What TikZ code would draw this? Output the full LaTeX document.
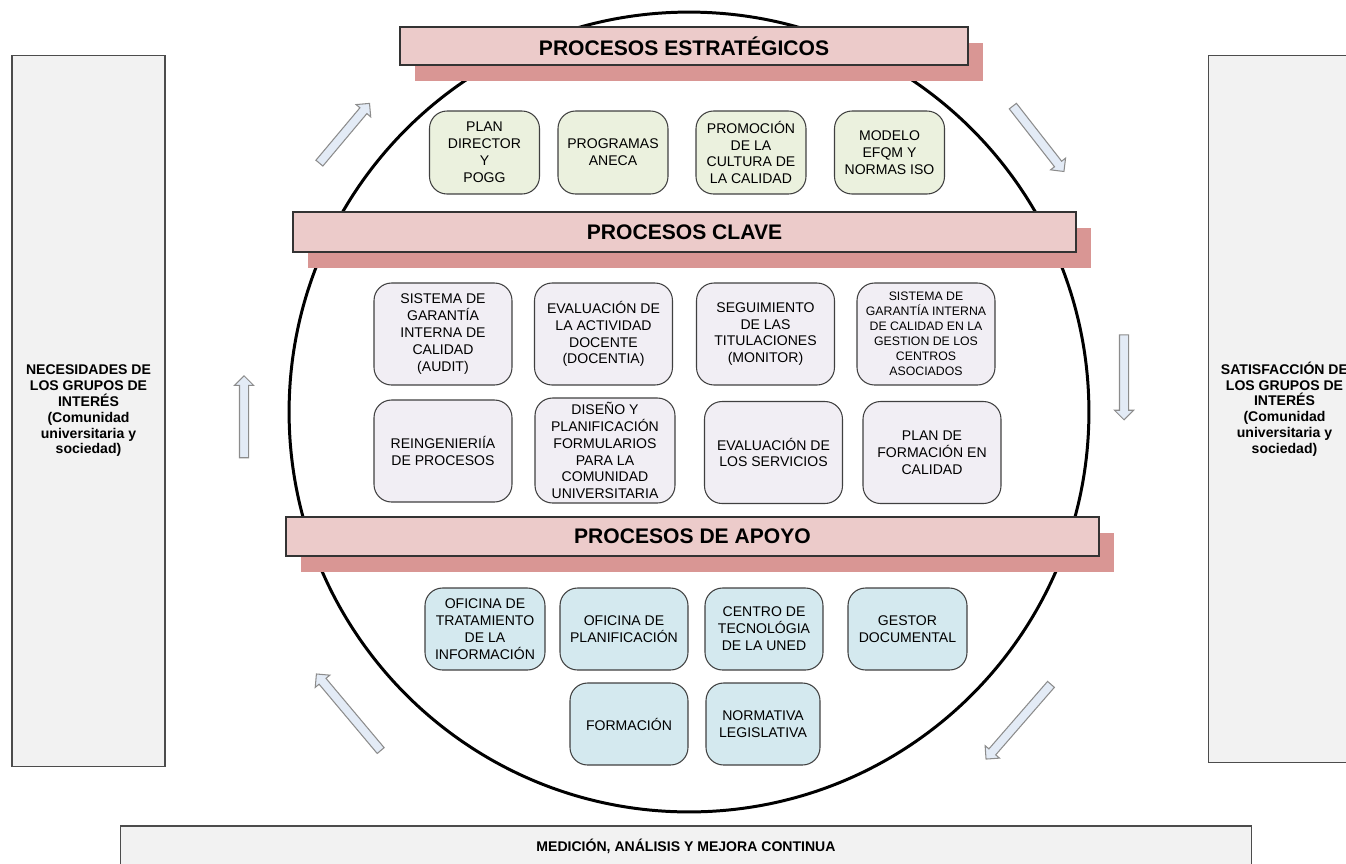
\documentclass[tikz,border=0pt]{standalone}
\usepackage{fontspec}
\setmainfont{Liberation Sans}
\usepackage{xcolor}
\usepackage{tikz}
\usetikzlibrary{shapes,arrows,positioning,calc,shadows}

\definecolor{bannerpink}{HTML}{ECCBCA}
\definecolor{bannershadow}{HTML}{D99694}
\definecolor{stratgreen}{HTML}{EBF1DE}
\definecolor{clavelilac}{HTML}{F1EEF4}
\definecolor{apoyoblue}{HTML}{D4E9EF}
\definecolor{panelgray}{HTML}{F2F2F2}
\definecolor{arrowblue}{HTML}{E3EBF6}

\begin{document}
\begin{tikzpicture}[x=0.02cm, y=-0.02cm,
    banner/.style={draw=black!80, fill=bannerpink, line width=0.8pt, inner sep=0pt,
        drop shadow={shadow xshift=0.3cm, shadow yshift=-0.32cm, fill=bannershadow, opacity=1},
        font=\bfseries\fontsize{12}{14}\selectfont},
    procbox/.style={draw=black!75, line width=0.6pt, rounded corners=0.35cm, align=center,
        inner sep=0pt, font=\fontsize{8}{9.6}\selectfont},
    strat/.style={procbox, fill=stratgreen, minimum width=2.2cm, minimum height=1.66cm},
    clave/.style={procbox, fill=clavelilac, minimum width=2.76cm, minimum height=2.04cm},
    apoyo/.style={procbox, fill=apoyoblue, minimum height=1.64cm},
    panel/.style={draw=black!70, fill=panelgray, line width=0.6pt, align=center, inner sep=0pt,
        font=\bfseries\fontsize{8}{9}\selectfont},
    flecha/.style={single arrow, draw=black!45, fill=arrowblue, line width=0.6pt,
        inner sep=0.08cm, minimum width=0pt, single arrow head extend=0.1cm}
]
    \useasboundingbox (0,0) rectangle (1346,863);
    \clip (0,0) rectangle (1346,863);

    % Grupos de interes
    \node[panel, minimum width=3.06cm, minimum height=14.24cm] (necesidades) at (88.5,411)
        {NECESIDADES DE\\LOS GRUPOS DE\\INTERÉS\\(Comunidad\\universitaria y\\sociedad)};
    \node[panel, minimum width=3.06cm, minimum height=14.16cm] (satisfaccion) at (1284.5,409)
        {SATISFACCIÓN DE\\LOS GRUPOS DE\\INTERÉS\\(Comunidad\\universitaria y\\sociedad)};
    \node[panel, minimum width=22.64cm, minimum height=0.8cm] (mejora) at (686,846)
        {MEDICIÓN, ANÁLISIS Y MEJORA CONTINUA};

    % Ciclo
    \draw[line width=1.7pt] (689,412) circle [radius=8cm];
    \node[flecha, minimum height=1.56cm, rotate=50] (flecha1) at (343,135) {};
    \node[flecha, minimum height=1.66cm, rotate=-52] (flecha2) at (1037,137) {};
    \node[flecha, minimum height=1.7cm, rotate=-90] (flecha3) at (1124,375) {};
    \node[flecha, minimum height=1.98cm, rotate=-131] (flecha4) at (1020,720) {};
    \node[flecha, minimum height=2cm, rotate=130] (flecha5) at (350,714) {};
    \node[flecha, minimum height=1.64cm, rotate=90] (flecha6) at (244,419) {};

    % Procesos estrategicos
    \node[banner, minimum width=11.36cm, minimum height=0.76cm] (estrategicos) at (684,46) {PROCESOS ESTRATÉGICOS};
    \node[strat] (plan) at (484.5,152.5) {PLAN\\DIRECTOR\\Y\\POGG};
    \node[strat] (aneca) at (613,152.5) {PROGRAMAS\\ANECA};
    \node[strat] (promocion) at (751,152.5) {PROMOCIÓN\\DE LA\\CULTURA DE\\LA CALIDAD};
    \node[strat] (efqm) at (889.5,152.5) {MODELO\\EFQM Y\\NORMAS ISO};

    % Procesos clave
    \node[banner, minimum width=15.66cm, minimum height=0.8cm] (claves) at (684.5,232) {PROCESOS CLAVE};
    \node[clave] (audit) at (443,334) {SISTEMA DE\\GARANTÍA\\INTERNA DE\\CALIDAD\\(AUDIT)};
    \node[clave] (docentia) at (603.5,334) {EVALUACIÓN DE\\LA ACTIVIDAD\\DOCENTE\\(DOCENTIA)};
    \node[clave] (monitor) at (765.5,334) {SEGUIMIENTO\\DE LAS\\TITULACIONES\\(MONITOR)};
    \node[clave, font=\fontsize{7}{8.5}\selectfont] (centros) at (926,334)
        {SISTEMA DE\\GARANTÍA INTERNA\\DE CALIDAD EN LA\\GESTION DE LOS\\CENTROS\\ASOCIADOS};
    \node[clave] (reingenieria) at (443,451) {REINGENIERIÍA\\DE PROCESOS};
    \node[clave, minimum width=2.8cm, minimum height=2.1cm] (diseno) at (605,450.5)
        {DISEÑO Y\\PLANIFICACIÓN\\FORMULARIOS\\PARA LA\\COMUNIDAD\\UNIVERSITARIA};
    \node[clave] (servicios) at (773.5,452.5) {EVALUACIÓN DE\\LOS SERVICIOS};
    \node[clave] (formcalidad) at (932,452.5) {PLAN DE\\FORMACIÓN EN\\CALIDAD};

    % Procesos de apoyo
    \node[banner, minimum width=16.26cm, minimum height=0.78cm] (apoyos) at (692.5,536.5) {PROCESOS DE APOYO};
    \node[apoyo, minimum width=2.4cm] (tratamiento) at (485,629) {OFICINA DE\\TRATAMIENTO\\DE LA\\INFORMACIÓN};
    \node[apoyo, minimum width=2.56cm] (planificacion) at (624,629) {OFICINA DE\\PLANIFICACIÓN};
    \node[apoyo, minimum width=2.36cm] (tecnologia) at (764,629) {CENTRO DE\\TECNOLÓGIA\\DE LA UNED};
    \node[apoyo, minimum width=2.38cm] (gestor) at (907.5,629) {GESTOR\\DOCUMENTAL};
    \node[apoyo, minimum width=2.36cm] (formacion) at (629,724) {FORMACIÓN};
    \node[apoyo, minimum width=2.28cm] (normativa) at (763,724) {NORMATIVA\\LEGISLATIVA};
\end{tikzpicture}
\end{document}
